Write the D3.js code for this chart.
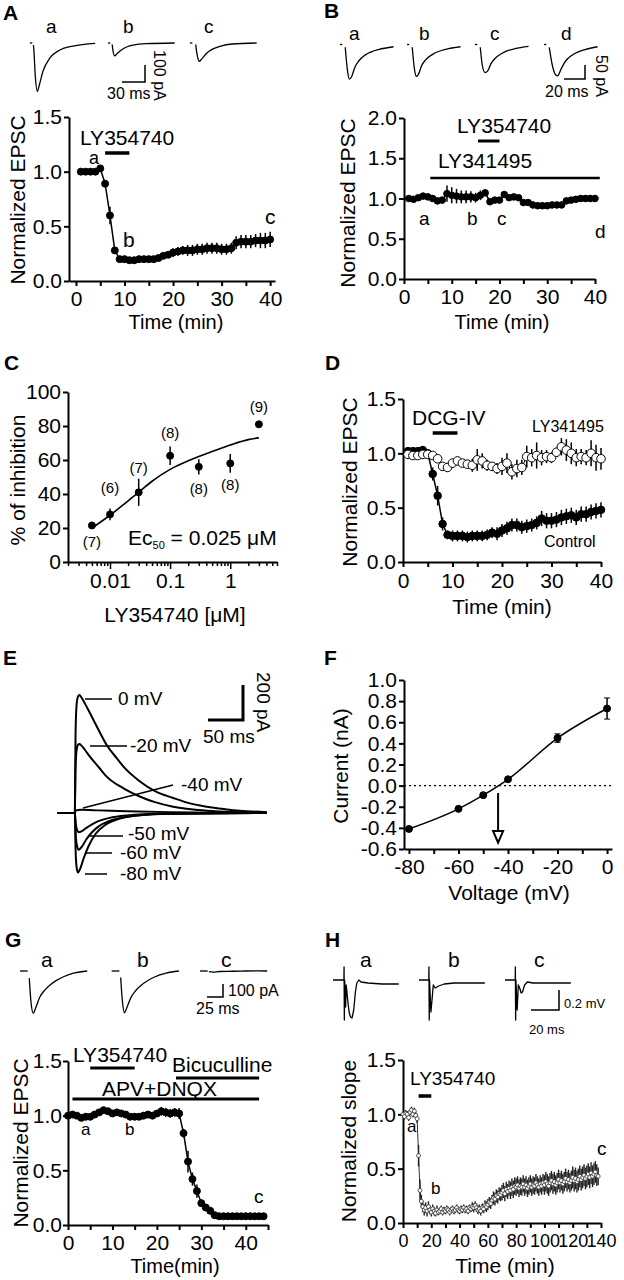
<!DOCTYPE html>
<html><head><meta charset="utf-8">
<script src="https://cdn.jsdelivr.net/npm/d3@7"></script>
<style>
body{margin:0;background:#fff;}
svg text{font-family:"Liberation Sans",Arial,Helvetica,sans-serif;}
</style></head><body>
<svg id="fig" width="624" height="1280"></svg>
<script>
// ---------------- DATA ----------------
// Panel A
const timeA = [1,2,3,4,5,6,7,8,9,10,11,12,13,14,15,16,17,18,19,20,21,22,23,24,25,26,27,28,29,30,31,32,33,34,35,36,37,38,39,40];
const epscA = [1.00,1.00,1.00,1.00,1.03,0.89,0.60,0.28,0.20,0.20,0.19,0.19,0.20,0.20,0.20,0.20,0.21,0.23,0.24,0.26,0.27,0.28,0.28,0.28,0.29,0.29,0.30,0.30,0.30,0.29,0.29,0.30,0.35,0.36,0.36,0.36,0.37,0.37,0.37,0.38];
const errA  = [0.01,0.01,0.01,0.01,0.01,0.03,0.08,0.03,0.01,0.01,0.01,0.01,0.01,0.01,0.01,0.01,0.02,0.02,0.03,0.04,0.04,0.04,0.05,0.05,0.05,0.05,0.05,0.05,0.05,0.05,0.05,0.05,0.06,0.06,0.06,0.06,0.06,0.07,0.07,0.07];
// Panel B
const timeB = timeA;
const epscB = [1.00,0.99,1.01,1.03,1.02,1.00,0.97,0.98,1.06,1.04,1.03,1.02,1.02,1.02,1.01,1.04,1.07,0.96,0.98,0.98,1.05,1.01,1.02,1.01,0.95,0.95,0.92,0.91,0.91,0.91,0.92,0.92,0.92,0.97,0.98,0.99,1.00,1.00,1.00,1.00];
const errB  = [0.02,0.02,0.02,0.02,0.02,0.02,0.04,0.04,0.10,0.10,0.09,0.08,0.08,0.07,0.06,0.06,0.04,0.02,0.02,0.02,0.03,0.03,0.03,0.03,0.03,0.03,0.04,0.04,0.04,0.04,0.04,0.04,0.04,0.04,0.04,0.04,0.04,0.04,0.04,0.04];
// Panel C
const concC = [0.005,0.01,0.03,0.1,0.3,1,3];
const inhC  = [21.5,28,41,62.5,56,58,81];
const errC  = [1.5,3.5,8,5.5,4.5,5.5,1.5];
const nC    = ["(7)","(6)","(7)","(8)","(8)","(8)","(9)"];
const nLabelC = [8.8,40.6,52.4,73,40,42.4,88.2];
const fitConcC = [0.005,0.01,0.02,0.03,0.05,0.1,0.2,0.3,0.5,1,2,3];
const fitInhC  = [20,27.5,36,41,47.5,54.5,59.5,62,65,68.8,72,73];
// Panel D
const timeD = timeA;
const ctrlD = [1.02,1.02,1.02,1.03,1.00,0.81,0.61,0.35,0.25,0.24,0.24,0.24,0.23,0.24,0.24,0.24,0.25,0.27,0.26,0.29,0.31,0.34,0.34,0.32,0.33,0.34,0.36,0.40,0.38,0.38,0.39,0.41,0.42,0.43,0.41,0.44,0.44,0.46,0.47,0.48];
const errCtrlD = [0.02,0.02,0.02,0.02,0.02,0.06,0.09,0.06,0.04,0.05,0.05,0.05,0.05,0.05,0.05,0.05,0.05,0.05,0.06,0.06,0.06,0.06,0.06,0.06,0.06,0.06,0.06,0.07,0.07,0.07,0.07,0.07,0.07,0.07,0.07,0.07,0.07,0.07,0.07,0.07];
const lyD = [0.99,0.98,0.98,0.99,0.99,0.98,0.95,0.88,0.87,0.91,0.93,0.91,0.90,0.89,0.94,0.93,0.89,0.88,0.86,0.88,0.91,0.83,0.86,0.87,0.97,0.96,0.98,0.96,0.97,0.96,1.01,1.06,1.03,1.00,0.96,0.97,0.96,1.00,0.96,0.95];
const errLyD = [0.02,0.02,0.02,0.02,0.02,0.02,0.03,0.03,0.04,0.03,0.03,0.03,0.04,0.06,0.10,0.07,0.05,0.04,0.05,0.08,0.09,0.07,0.08,0.07,0.10,0.08,0.12,0.07,0.06,0.05,0.04,0.08,0.10,0.10,0.08,0.07,0.07,0.12,0.12,0.10];
// Panel E (traces: ms, pA)
const eT0  = [0,25.5,26.5,28,30,32,35,40,47,60,71,85,95,119,140,166,190,214,240,261,300];
const eI0  = [0,0,450,620,665,674,660,625,571,470,389,315,265,179,125,86,55,36,22,13,5];
const eT20 = [0,25.5,26.5,28,30,32,35,40,47,60,71,95,119,140,166,214,260,300];
const eI20 = [0,0,260,360,390,394,385,360,322,260,208,141,93,62,36,13,5,2];
const eT40 = [0,25.5,27,35,60,100,160,300];
const eI40 = [0,0,15,18,15,10,5,0];
const eT50 = [0,25.5,27,29,31,35,42,50,60,75,100,150,300];
const eI50 = [0,0,-70,-100,-110,-105,-85,-65,-45,-28,-14,-4,0];
const eT60 = [0,25.5,27,29,31,35,42,50,60,75,100,150,300];
const eI60 = [0,0,-140,-195,-210,-195,-150,-110,-75,-45,-22,-6,0];
const eT80 = [0,25.5,26.5,28,30,33,38,45,55,70,90,120,170,300];
const eI80 = [0,0,-200,-310,-340,-320,-260,-190,-120,-65,-32,-12,-3,0];
// Panel F
const voltF = [-80,-60,-50,-40,-20,0];
const currF = [-0.41,-0.22,-0.09,0.06,0.45,0.73];
const errF  = [0.02,0.01,0.01,0.01,0.04,0.10];
const reversalF = -44;
// Panel G
const timeG = [0,1,2,3,4,5,6,7,8,9,10,11,12,13,14,15,16,17,18,19,20,21,22,23,24,25,26,27,28,29,30,31,32,33,34,35,36,37,38,39,40,41,42,43,44];
const epscG = [1.00,1.01,1.00,0.98,0.99,0.99,1.01,1.03,1.05,1.04,1.02,1.03,1.02,1.01,0.99,0.99,0.99,1.00,1.01,1.00,1.02,1.04,1.03,1.02,1.03,1.02,0.84,0.58,0.42,0.31,0.20,0.16,0.13,0.09,0.08,0.08,0.08,0.08,0.08,0.08,0.08,0.08,0.08,0.08,0.08];
const errG  = [0.02,0.02,0.02,0.02,0.02,0.02,0.02,0.02,0.02,0.02,0.02,0.02,0.02,0.02,0.02,0.03,0.03,0.03,0.03,0.03,0.03,0.04,0.04,0.04,0.04,0.05,0.04,0.10,0.06,0.06,0.03,0.02,0.02,0.01,0.01,0.01,0.01,0.01,0.01,0.01,0.01,0.01,0.01,0.01,0.01];
// Panel H
const timeH = d3.range(0,139);
const slopeH = [1.00,0.98,1.01,1.00,0.97,1.02,1.04,1.00,1.03,0.99,0.96,0.62,0.30,0.20,0.15,0.12,0.14,0.11,0.15,0.12,
 0.10,0.13,0.11,0.09,0.12,0.10,0.11,0.13,0.10,0.12,0.11,0.13,0.12,0.10,0.12,0.13,0.11,0.12,0.14,0.12,
 0.11,0.13,0.12,0.14,0.12,0.13,0.11,0.14,0.13,0.15,0.14,0.16,0.14,0.12,0.13,0.11,0.14,0.13,0.16,0.15,
 0.17,0.19,0.18,0.21,0.23,0.22,0.25,0.24,0.27,0.26,0.28,0.30,0.27,0.31,0.29,0.32,0.30,0.33,0.31,0.34,
 0.33,0.35,0.32,0.34,0.33,0.36,0.33,0.35,0.32,0.34,0.36,0.33,0.35,0.34,0.37,0.35,0.33,0.36,0.34,0.37,
 0.35,0.38,0.36,0.34,0.37,0.39,0.36,0.38,0.35,0.37,0.40,0.37,0.39,0.36,0.38,0.41,0.38,0.40,0.37,0.39,
 0.42,0.39,0.41,0.38,0.40,0.43,0.40,0.42,0.44,0.41,0.43,0.45,0.42,0.46,0.43,0.45,0.47,0.44,0.43];
const errH = [0.02,0.03,0.03,0.03,0.03,0.03,0.03,0.03,0.03,0.03,0.04,0.10,0.10,0.06,0.05,0.05,0.05,0.05,0.05,0.04,
 0.04,0.04,0.04,0.03,0.04,0.03,0.03,0.03,0.03,0.03,0.03,0.03,0.03,0.03,0.03,0.03,0.03,0.03,0.03,0.03,
 0.03,0.03,0.03,0.03,0.03,0.03,0.03,0.03,0.03,0.04,0.04,0.04,0.04,0.04,0.04,0.04,0.04,0.04,0.05,0.05,
 0.05,0.05,0.05,0.05,0.06,0.06,0.06,0.06,0.06,0.06,0.07,0.07,0.07,0.07,0.07,0.07,0.08,0.08,0.08,0.08,
 0.08,0.08,0.08,0.08,0.08,0.08,0.08,0.08,0.08,0.08,0.08,0.08,0.08,0.08,0.08,0.08,0.08,0.08,0.08,0.08,
 0.09,0.09,0.09,0.09,0.09,0.09,0.09,0.09,0.09,0.09,0.09,0.09,0.09,0.09,0.09,0.09,0.09,0.09,0.09,0.09,
 0.10,0.10,0.10,0.10,0.10,0.10,0.10,0.10,0.10,0.10,0.10,0.10,0.10,0.10,0.10,0.10,0.10,0.10,0.08];
// Sample traces (ms, pA / mV)
const trAa_t = [4.5,5,7,9.5,12,17,26,39,56,85],        trAa_v = [-12,-40,-200,-285,-250,-165,-88,-41,-18,-2];
const trAb_t = [5.5,6,8.6,12,18,25,33,50,87],          trAb_v = [-9,-30,-75,-62,-40,-22,-12,-4,0];
const trAc_t = [7.5,8,10,12,15,22,30,39,55,87],        trAc_v = [-9,-30,-85,-108,-95,-59,-35,-20,-6,0];
const trBa_t = [5,7,9,11,14.3,18,23.8,30,36.6,51],    trBa_v = [-10,-90,-124,-115,-80,-58,-38,-26,-18,-8];
const trBb_t = [5,7,9,11,14,18,24,30,37,51],          trBb_v = [-10,-85,-114,-106,-75,-54,-36,-25,-17,-8];
const trBc_t = [5,7,9.5,12,15,19,25,31,38,51],        trBc_v = [-10,-75,-100,-95,-70,-50,-33,-22,-15,-7];
const trBd_t = [5,8,11,13,16,20,26,32,39,51],         trBd_v = [-10,-75,-108,-112,-90,-62,-40,-27,-18,-8];
const trGa_t = [14.5,17,20.8,24,31,39,47,57,68,85,105], trGa_v = [-55,-230,-325,-290,-200,-145,-108,-72,-44,-15,0];
const trGb_t = [14,16.5,20,23,30,38,46,56,67,85,105],   trGb_v = [-50,-220,-322,-290,-205,-148,-110,-75,-46,-16,0];
const trGc_t = [14,20,30,50,70,90,105],                  trGc_v = [-5,-8,-4,-2,0,1,0];
const trHa_t = [0,7.8,7.9,8.1,8.3,9.0,9.4,9.8,10.5,11.5,12.5,13.6,14.8,16,17,18.5,20,25,35,47];
const trHa_v = [0,0,0.13,-0.4,0,-0.27,-0.05,-0.1,-0.2,-0.32,-0.37,-0.38,-0.3,-0.12,-0.03,0.0,-0.02,-0.03,-0.04,-0.04];
const trHb_t = [0,7.0,7.1,7.3,7.5,8.5,9.3,10.2,11.5,14,18,25,35,47];
const trHb_v = [0,0,0.13,-0.4,0.0,-0.32,-0.2,-0.05,-0.08,-0.06,-0.04,-0.03,-0.03,-0.03];
const trHc_t = [0,7.3,7.4,7.6,7.8,8.7,9.5,10.5,11.5,12.5,14,16,20,30,47];
const trHc_v = [0,0,0.13,-0.4,0.0,-0.3,-0.05,-0.08,-0.13,-0.12,-0.05,-0.02,-0.03,-0.03,-0.03];

// ---------------- HELPERS ----------------
const svg = d3.select("#fig");
svg.append("rect").attr("width",624).attr("height",1280).attr("fill","#fff");
const FS = 21;

function txt(g, x, y, s, o = {}) {
  const t = g.append("text").attr("x", x).attr("y", y).text(s)
    .attr("font-size", o.fs || FS).attr("text-anchor", o.anchor || "start")
    .attr("font-weight", o.bold ? "bold" : "normal").attr("fill", "#000");
  if (o.rot) t.attr("transform", `rotate(${o.rot},${x},${y})`);
  return t;
}
function axes(g, x, y, o) {
  const xa = d3.axisBottom(x).tickValues(o.xt).tickSize(5).tickSizeOuter(0).tickPadding(o.xpad || 5).tickFormat(o.xf);
  const gx = g.append("g").attr("transform", `translate(0,${y.range()[0]})`).call(xa);
  const ya = d3.axisLeft(y).tickValues(o.yt).tickSize(5).tickSizeOuter(0).tickPadding(o.ypad || 2).tickFormat(o.yf);
  const gy = g.append("g").attr("transform", `translate(${x.range()[0]},0)`).call(ya);
  [gx, gy].forEach(a => {
    a.select(".domain").attr("stroke-width", 2).attr("stroke", "#000");
    a.selectAll(".tick line").attr("stroke-width", 2).attr("stroke", "#000");
  });
  gx.selectAll(".tick text").attr("font-size", o.xfs || FS).attr("fill", "#000");
  gy.selectAll(".tick text").attr("font-size", o.yfs || FS).attr("fill", "#000");
  return {gx, gy};
}
function series(g, x, y, xs, ys, es, o = {}) {
  const d = xs.map((v, i) => ({x: v, y: ys[i], e: es ? es[i] : 0}));
  if (o.line) g.append("path").datum(d).attr("fill", "none").attr("stroke", o.lc || "#000")
      .attr("stroke-width", o.lw || 1.5).attr("d", d3.line().x(p => x(p.x)).y(p => y(p.y)).curve(o.curve || d3.curveLinear));
  if (es) {
    g.append("g").selectAll("line").data(d).join("line")
      .attr("x1", p => x(p.x)).attr("x2", p => x(p.x))
      .attr("y1", p => y(p.y - p.e)).attr("y2", p => y(p.y + p.e))
      .attr("stroke", o.ec || "#000").attr("stroke-width", o.ew || 1.5);
    if (o.cap) g.append("g").selectAll("path").data(d).join("path")
      .attr("d", p => `M${x(p.x)-o.cap},${y(p.y-p.e)}H${x(p.x)+o.cap}M${x(p.x)-o.cap},${y(p.y+p.e)}H${x(p.x)+o.cap}`)
      .attr("stroke", o.ec || "#000").attr("stroke-width", 1);
  }
  g.append("g").selectAll("circle").data(d).join("circle")
    .attr("cx", p => x(p.x)).attr("cy", p => y(p.y)).attr("r", o.r || 3.5)
    .attr("fill", o.open ? "#fff" : "#000").attr("stroke", o.sc || "#000").attr("stroke-width", o.sw || 1);
}
function bar(g, x0, x1, yy, w) {
  g.append("line").attr("x1", x0).attr("x2", x1).attr("y1", yy).attr("y2", yy)
    .attr("stroke", "#000").attr("stroke-width", w || 3);
}
function trace(g, ox, oy, sx, sy, ts, vs, o = {}) {
  const d = ts.map((t, i) => [t, vs[i]]);
  g.append("path").datum(d).attr("fill", "none").attr("stroke", "#000")
    .attr("stroke-width", o.w || 1.3).attr("stroke-linejoin", "round")
    .attr("d", d3.line().x(p => ox + sx(p[0])).y(p => oy - sy(p[1])).curve(o.curve || d3.curveMonotoneX));
}
function dash(g, ox, oy, sx, len, w) {
  g.append("line").attr("x1", ox).attr("x2", ox + sx(len)).attr("y1", oy).attr("y2", oy)
    .attr("stroke", "#000").attr("stroke-width", w || 1.3);
}
function scaleBar(g, xCorner, yCorner, lenX, lenY, w) {
  g.append("path").attr("d", `M${xCorner - lenX},${yCorner}H${xCorner}V${yCorner - lenY}`)
    .attr("fill", "none").attr("stroke", "#000").attr("stroke-width", w || 1.5);
}
const fmt1 = d => d.toFixed(1);
const lab10 = d => (d % 10 === 0 ? d : "");

// ---------------- PANEL A ----------------
{
  const g = svg.append("g");
  txt(g, 3, 20, "A", {bold: true, fs: 21});
  const sx = d3.scaleLinear().domain([0, 30]).range([0, 23]);
  const sy = d3.scaleLinear().domain([0, 100]).range([0, 17]);
  [[30, trAa_t, trAa_v], [108, trAb_t, trAb_v], [190, trAc_t, trAc_v]].forEach(([ox, t, v]) => {
    dash(g, ox, 43, sx, 3); trace(g, ox, 43, sx, sy, t, v);
  });
  txt(g, 46, 33, "a", {fs: 19}); txt(g, 123, 33, "b", {fs: 19}); txt(g, 204, 33, "c", {fs: 19});
  scaleBar(g, 145, 82, sx(30), sy(100));
  txt(g, 107, 99, "30 ms", {fs: 16});
  txt(g, 154, 50, "100 pA", {fs: 16, rot: 90});

  const x = d3.scaleLinear().domain([-1.44, 41]).range([69, 275]);
  const y = d3.scaleLinear().domain([0, 1.5]).range([281, 117]);
  axes(g, x, y, {xt: d3.range(0, 41, 5), xf: lab10, yt: [0, 0.5, 1, 1.5], yf: fmt1});
  series(g, x, y, timeA, epscA, errA, {line: true});
  txt(g, 80, 145, "LY354740");
  bar(g, x(6), x(11), 153, 3.5);
  txt(g, 89, 164, "a", {fs: 18}); txt(g, 123, 247, "b"); txt(g, 265, 224, "c");
  txt(g, 25, 200, "Normalized EPSC", {rot: -90, anchor: "middle"});
  txt(g, 176, 329, "Time (min)", {anchor: "middle", fs: 20});
}
// ---------------- PANEL B ----------------
{
  const g = svg.append("g");
  txt(g, 324, 18, "B", {bold: true, fs: 21});
  const sx = d3.scaleLinear().domain([0, 20]).range([0, 21]);
  const sy = d3.scaleLinear().domain([0, 50]).range([0, 14]);
  [[340, trBa_t, trBa_v], [407, trBb_t, trBb_v], [475, trBc_t, trBc_v], [544, trBd_t, trBd_v]].forEach(([ox, t, v]) => {
    dash(g, ox, 44.5, sx, 2.2); trace(g, ox, 44.5, sx, sy, t, v);
  });
  txt(g, 349, 40, "a", {fs: 19}); txt(g, 419, 40, "b", {fs: 19}); txt(g, 490, 40, "c", {fs: 19}); txt(g, 561, 40, "d", {fs: 19});
  scaleBar(g, 585, 79, sx(20), sy(50));
  txt(g, 545, 97, "20 ms", {fs: 16});
  txt(g, 596, 55, "50 pA", {fs: 16, rot: 90});

  const x = d3.scaleLinear().domain([0, 40]).range([404, 595]);
  const y = d3.scaleLinear().domain([0, 2]).range([279, 118]);
  axes(g, x, y, {xt: d3.range(0, 41, 5), xf: lab10, yt: [0, 0.5, 1, 1.5, 2], yf: fmt1});
  series(g, x, y, timeB, epscB, errB, {line: true, r: 3.3});
  txt(g, 457, 133, "LY354740");
  bar(g, x(15.5), x(20), 141, 3);
  txt(g, 438, 168, "LY341495");
  bar(g, x(5.5), x(41), 178, 2.5);
  txt(g, 419, 225, "a", {fs: 19}); txt(g, 467, 225, "b", {fs: 19}); txt(g, 497, 225, "c", {fs: 19}); txt(g, 595, 238, "d", {fs: 19});
  txt(g, 355, 203, "Normalized EPSC", {rot: -90, anchor: "middle"});
  txt(g, 502, 329, "Time (min)", {anchor: "middle", fs: 20});
}
// ---------------- PANEL C ----------------
{
  const g = svg.append("g");
  txt(g, 4, 370, "C", {bold: true, fs: 21});
  const x = d3.scaleLog().domain([0.002, 6]).range([68, 277]);
  const y = d3.scaleLinear().domain([0, 100]).range([562, 392]);
  const minor = [0.002,0.003,0.004,0.005,0.006,0.007,0.008,0.009,0.01,0.02,0.03,0.04,0.05,0.06,0.07,0.08,0.09,0.1,0.2,0.3,0.4,0.5,0.6,0.7,0.8,0.9,1,2,3,4,5,6];
  const majors = [0.01, 0.1, 1];
  const {gx} = axes(g, x, y, {xt: minor, xf: d => (majors.some(m => Math.abs(m - d) < 1e-9) ? String(d) : ""), yt: [0, 20, 40, 60, 80, 100], yf: d => d, xpad: 6});
  gx.selectAll(".tick line").attr("y2", d => (majors.some(m => Math.abs(m - d) < 1e-9) ? 7 : 4)).attr("stroke-width", 1.5);
  g.append("path").datum(fitConcC.map((c, i) => [c, fitInhC[i]])).attr("fill", "none").attr("stroke", "#000").attr("stroke-width", 1.6)
    .attr("d", d3.line().x(p => x(p[0])).y(p => y(p[1])).curve(d3.curveMonotoneX));
  series(g, x, y, concC, inhC, errC, {r: 3.5});
  concC.forEach((c, i) => txt(g, x(c), y(nLabelC[i]), nC[i], {fs: 15, anchor: "middle"}));
  const t = txt(g, 128, 545, "Ec");
  t.append("tspan").attr("font-size", 11).attr("dy", 4).text("50");
  t.append("tspan").attr("dy", -4).text(" = 0.025 μM");
  txt(g, 25, 480, "% of inhibition", {rot: -90, anchor: "middle"});
  txt(g, 175, 622, "LY354740 [μM]", {anchor: "middle"});
}
// ---------------- PANEL D ----------------
{
  const g = svg.append("g");
  txt(g, 325, 370, "D", {bold: true, fs: 21});
  const x = d3.scaleLinear().domain([0, 40]).range([403, 601]);
  const y = d3.scaleLinear().domain([0, 1.5]).range([562, 399]);
  axes(g, x, y, {xt: d3.range(0, 41, 5), xf: lab10, yt: [0, 0.5, 1, 1.5], yf: fmt1, xpad: 6});
  series(g, x, y, timeD, ctrlD, errCtrlD, {line: true, r: 3.8});
  series(g, x, y, timeD, lyD, errLyD, {line: true, r: 4.3, open: true, lw: 1});
  txt(g, 412, 425, "DCG-IV");
  bar(g, x(6), x(11), 433, 3.5);
  txt(g, 532, 432, "LY341495", {fs: 16});
  txt(g, 544, 547, "Control", {fs: 16});
  txt(g, 357, 482, "Normalized EPSC", {rot: -90, anchor: "middle"});
  txt(g, 502, 614, "Time (min)", {anchor: "middle"});
}
// ---------------- PANEL E ----------------
{
  const g = svg.append("g");
  txt(g, 3, 665, "E", {bold: true, fs: 21});
  const sx = d3.scaleLinear().domain([0, 50]).range([0, 35]);
  const sy = d3.scaleLinear().domain([0, 200]).range([0, 35]);
  const ox = 57, oy = 813;
  [[eT0, eI0], [eT20, eI20], [eT40, eI40], [eT50, eI50], [eT60, eI60], [eT80, eI80]].forEach(([t, v]) =>
    trace(g, ox, oy, sx, sy, t, v, {w: 2, curve: d3.curveMonotoneX}));
  const leaders = [[85, 699, 112, 699], [90, 746, 127, 746], [83, 808, 173, 785], [90, 836, 123, 836], [85, 853, 112, 853], [85, 874, 107, 874]];
  leaders.forEach(l => g.append("line").attr("x1", l[0]).attr("y1", l[1]).attr("x2", l[2]).attr("y2", l[3]).attr("stroke", "#000").attr("stroke-width", 1.5));
  txt(g, 118, 705, "0 mV", {fs: 19});
  txt(g, 130, 752, "-20 mV", {fs: 19});
  txt(g, 181, 791, "-40 mV", {fs: 19});
  txt(g, 128, 840, "-50 mV", {fs: 19});
  txt(g, 120, 859, "-60 mV", {fs: 19});
  txt(g, 120, 880, "-80 mV", {fs: 19});
  scaleBar(g, 243, 720, sx(50), sy(200), 3);
  txt(g, 203, 743, "50 ms", {fs: 19});
  txt(g, 257, 672, "200 pA", {fs: 19, rot: 90});
}
// ---------------- PANEL F ----------------
{
  const g = svg.append("g");
  txt(g, 324, 665, "F", {bold: true, fs: 21});
  const x = d3.scaleLinear().domain([-82, 2]).range([404, 612]);
  const y = d3.scaleLinear().domain([-0.6, 1.0]).range([849, 680]);
  g.append("line").attr("x1", x(-82)).attr("x2", x(2)).attr("y1", y(0)).attr("y2", y(0))
    .attr("stroke", "#000").attr("stroke-width", 1.2).attr("stroke-dasharray", "2,3");
  axes(g, x, y, {xt: d3.range(-80, 1, 10), xf: d => (d % 20 === 0 ? d : ""), yt: [-0.6,-0.4,-0.2,0,0.2,0.4,0.6,0.8,1.0], yf: fmt1, xpad: 5});
  series(g, x, y, voltF, currF, errF, {line: true, lw: 1.5, r: 3.5, cap: 3, curve: d3.curveMonotoneX});
  const ax = x(reversalF);
  g.append("line").attr("x1", ax).attr("x2", ax).attr("y1", y(-0.07)).attr("y2", y(-0.43)).attr("stroke", "#000").attr("stroke-width", 2);
  g.append("path").attr("d", `M${ax - 5},${y(-0.43)}H${ax + 5}L${ax},${y(-0.54)}Z`).attr("fill", "#fff").attr("stroke", "#000").attr("stroke-width", 2);
  txt(g, 348, 766, "Current (nA)", {rot: -90, anchor: "middle"});
  txt(g, 509, 900, "Voltage (mV)", {anchor: "middle"});
}
// ---------------- PANEL G ----------------
{
  const g = svg.append("g");
  txt(g, 5, 947, "G", {bold: true, fs: 21});
  const sx = d3.scaleLinear().domain([0, 25]).range([0, 16]);
  const sy = d3.scaleLinear().domain([0, 100]).range([0, 13]);
  [[20, trGa_t, trGa_v], [111.7, trGb_t, trGb_v], [200, trGc_t, trGc_v]].forEach(([ox, t, v]) => {
    dash(g, ox, 971, sx, 12); trace(g, ox, 971, sx, sy, t, v);
  });
  txt(g, 41, 967, "a"); txt(g, 137, 967, "b"); txt(g, 221, 967, "c");
  scaleBar(g, 223, 997, sx(25), sy(100));
  txt(g, 228, 996, "100 pA", {fs: 16});
  txt(g, 196, 1014, "25 ms", {fs: 16});

  const x = d3.scaleLinear().domain([0, 45]).range([68, 268]);
  const y = d3.scaleLinear().domain([0, 1.5]).range([1225, 1061]);
  axes(g, x, y, {xt: d3.range(0, 46, 5), xf: lab10, yt: [0, 0.5, 1, 1.5], yf: fmt1, ypad: 1});
  series(g, x, y, timeG, epscG, errG, {line: true, r: 3.5});
  txt(g, 73, 1062, "LY354740");
  bar(g, x(5), x(15), 1068, 3);
  txt(g, 172, 1072, "Bicuculline");
  bar(g, x(24.3), x(43), 1078, 3);
  txt(g, 102, 1096, "APV+DNQX");
  bar(g, x(1), x(43), 1099, 3);
  txt(g, 81, 1135, "a", {fs: 17}); txt(g, 125, 1135, "b", {fs: 17}); txt(g, 254, 1203, "c", {fs: 19});
  txt(g, 28, 1143, "Normalized EPSC", {rot: -90, anchor: "middle"});
  txt(g, 175, 1273, "Time(min)", {anchor: "middle", fs: 20});
}
// ---------------- PANEL H ----------------
{
  const g = svg.append("g");
  txt(g, 325, 947, "H", {bold: true, fs: 21});
  const sx = d3.scaleLinear().domain([0, 20]).range([0, 28]);
  const sy = d3.scaleLinear().domain([0, 0.2]).range([0, 20]);
  [[333, trHa_t, trHa_v], [419, trHb_t, trHb_v], [505, trHc_t, trHc_v]].forEach(([ox, t, v]) =>
    trace(g, ox, 980, sx, sy, t, v, {w: 1.3, curve: d3.curveLinear}));
  txt(g, 360, 967, "a"); txt(g, 448, 967, "b"); txt(g, 534, 967, "c");
  scaleBar(g, 559, 1010, sx(20), sy(0.2));
  txt(g, 564, 1008, "0.2 mV", {fs: 13});
  txt(g, 529, 1034, "20 ms", {fs: 13});

  const x = d3.scaleLinear().domain([0, 140]).range([403, 601]);
  const y = d3.scaleLinear().domain([0, 1.5]).range([1223, 1060]);
  axes(g, x, y, {xt: d3.range(0, 141, 10), xf: d => (d % 20 === 0 ? d : ""), yt: [0, 0.5, 1, 1.5], yf: fmt1, xfs: 18, xpad: 6});
  series(g, x, y, timeH, slopeH, errH, {line: true, lc: "#333", lw: 1, r: 2, open: true, sc: "#333", sw: 0.8, ec: "#222", ew: 1.4});
  txt(g, 410, 1085, "LY354740", {fs: 19});
  bar(g, x(11), x(20), 1096, 3.5);
  txt(g, 407, 1132, "a", {fs: 17}); txt(g, 431, 1194, "b", {fs: 17}); txt(g, 597, 1155, "c", {fs: 19});
  txt(g, 356, 1141, "Normalized slope", {rot: -90, anchor: "middle"});
  txt(g, 505, 1273, "Time (min)", {anchor: "middle"});
}
</script>
</body></html>
